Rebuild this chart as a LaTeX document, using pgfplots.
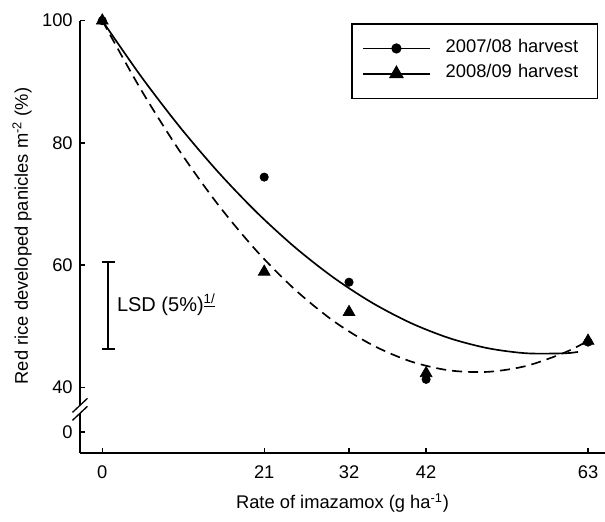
\documentclass[border=0pt]{standalone}
\usepackage{fontspec}
\setmainfont{Liberation Sans}
\usepackage{pgfplots}
\pgfplotsset{compat=1.18}
\begin{document}
\fontsize{11}{13.2}\selectfont
\begin{tikzpicture}
\path[use as bounding box] (-48pt,-40.8pt) rectangle (315pt,271.8pt);
\begin{axis}[
  at={(0pt,0pt)}, anchor=south west,
  scale only axis, width=315pt, height=259.4pt,
  xmin=-2.89, xmax=65.2, ymin=29.25, ymax=100,
  axis x line=bottom, axis y line=left,
  axis line style={-, line width=0.8pt, black},
  xtick={0,21,32,42,63},
  ytick={32.7,40,60,80,100}, yticklabels={0,40,60,80,100},
  tick align=inside, major tick length=3pt,
  tick style={line width=0.8pt, black},
  /pgf/number format/assume math mode=true,
  ticklabel style={font=\fontsize{11}{13.2}\selectfont, inner sep=0pt},
  xticklabel shift=7.2pt, yticklabel shift=4.2pt,
  xlabel={Rate of imazamox (g ha\textsuperscript{-1})},
  xlabel style={at={(axis description cs:0.5,-0.1157)}, anchor=center, inner sep=0pt},
  ylabel={Red rice developed panicles m\textsuperscript{-2} (\%)},
  ylabel style={at={(axis description cs:-0.1105,0.502)}, anchor=center, inner sep=0pt},
  label style={font=\fontsize{11}{13.2}\selectfont},
  clip=false,
  legend image code/.code={\draw[mark repeat=2,mark phase=2,#1] plot coordinates {(0pt,0pt) (20pt,0pt) (40pt,0pt)};},
  legend style={at={(rel axis cs:0.987,0.9947)}, anchor=north east,
    draw=black, line width=1pt, inner xsep=6pt, inner ysep=8.3pt, row sep=2.2pt,
    nodes={inner xsep=0pt, inner ysep=2pt, text height=7pt, text depth=2pt},
    /tikz/every odd column/.append style={column sep=9pt},
    /tikz/every even column/.append style={text width=85pt},
    font=\fontsize{11}{13.2}\selectfont},
  legend cell align=left,
]
% fitted curves
\addplot[black, line width=1pt, smooth, forget plot] coordinates {
 (0,100) (5,90.93) (10,82.69) (15,75.27) (20,68.67) (25,62.9) (30,57.95)
 (35,53.83) (40,50.53) (45,48.05) (50,46.4) (55,45.57) (60,45.57) (61.7,45.8)};
\addplot[black, line width=1pt, dash pattern=on 6pt off 3.6pt, smooth, forget plot] coordinates {
 (0,100) (5,88.75) (10,78.73) (15,69.92) (20,62.34) (25,55.98) (30,50.84)
 (35,46.93) (40,44.24) (45,42.77) (50,42.53) (55,43.5) (60,45.7) (63,47.6)};
% observed data
\addplot[only marks, mark=*, mark size=2.5pt, black, forget plot] coordinates {
 (0,100) (21,74.4) (32,57.2) (42,41.3) (63,47.4)};
\addplot[only marks, mark=triangle*, mark size=4.1pt, black, forget plot] coordinates {
 (0,100) (21,58.9) (32,52.3) (42,42.3) (63,47.6)};
\addlegendimage{black, solid, line width=1.1pt, mark=*, mark size=2.5pt}
\addlegendentry{2007/08 harvest}
\addlegendimage{black, solid, line width=1.1pt, mark=triangle*, mark size=4.1pt}
\addlegendentry{2008/09 harvest}
% LSD bar
\draw[line width=1pt] (axis cs:0.78,46.27) -- (axis cs:0.78,60.46);
\draw[line width=1pt] (axis cs:-0.06,46.27) -- (axis cs:1.62,46.27);
\draw[line width=1pt] (axis cs:-0.06,60.46) -- (axis cs:1.62,60.46);
\node[anchor=west, inner sep=0pt, font=\fontsize{12}{14}\selectfont] at (axis cs:1.87,53.5)
  {LSD (5\%)\textsuperscript{\underline{1/}}};
% axis break
\fill[white] (axis cs:-3.86,34.6) -- (axis cs:-1.92,36.9) -- (axis cs:-1.92,38.2) -- (axis cs:-3.86,35.9) -- cycle;
\draw[line width=0.8pt] (axis cs:-3.86,34.6) -- (axis cs:-1.92,36.9);
\draw[line width=0.8pt] (axis cs:-3.86,35.9) -- (axis cs:-1.92,38.2);
\end{axis}
\end{tikzpicture}
\end{document}
